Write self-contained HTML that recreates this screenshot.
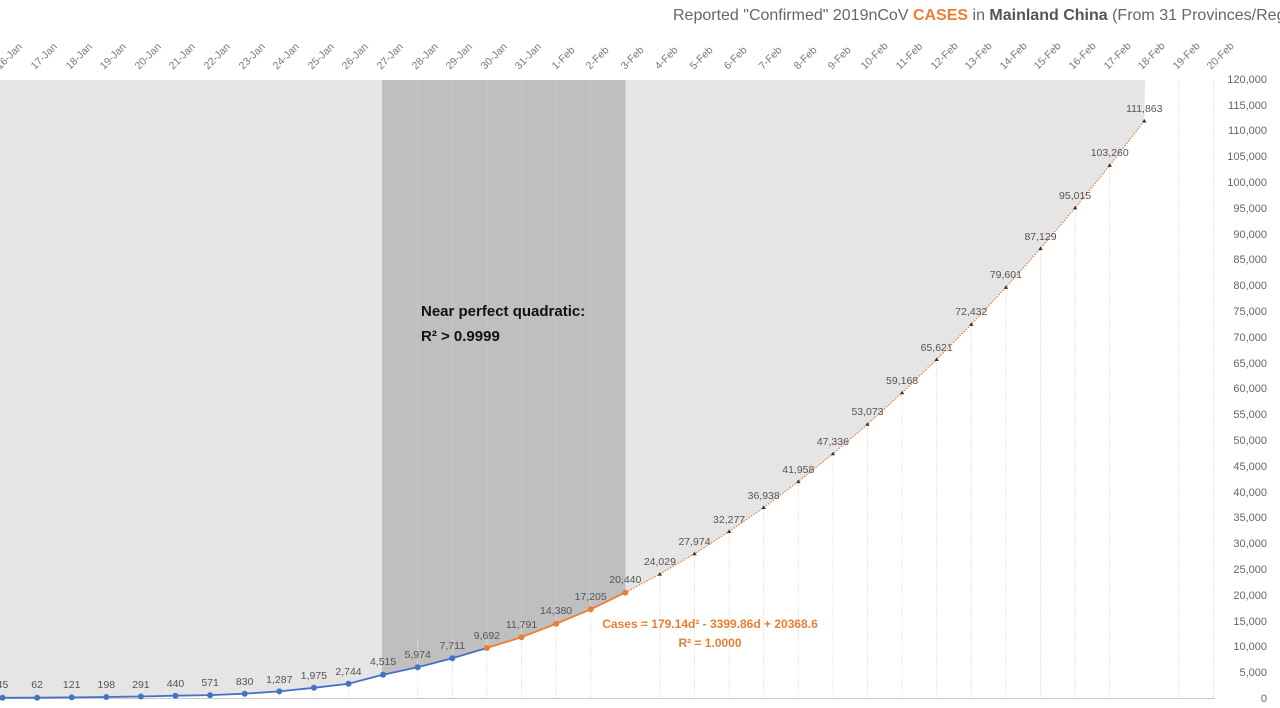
<!DOCTYPE html>
<html><head><meta charset="utf-8"><style>
html,body{margin:0;padding:0;background:#fff;}
svg{display:block;font-family:"Liberation Sans",sans-serif;}
.dl{font-size:10.5px;fill:#777;}
.yl{font-size:11px;fill:#666;text-anchor:end;}
.pl{font-size:10.5px;fill:#555;text-anchor:middle;}
</style></head><body>
<svg width="1280" height="708" viewBox="0 0 1280 708" xmlns="http://www.w3.org/2000/svg">
<rect x="0" y="80" width="1145" height="618" fill="#e5e5e5"/>
<rect x="382" y="80" width="243.5" height="618" fill="#bfbfbf"/>
<g stroke="#ececec" stroke-width="0.8">
<line x1="37.1" y1="80" x2="37.1" y2="698"/><line x1="71.7" y1="80" x2="71.7" y2="698"/><line x1="106.3" y1="80" x2="106.3" y2="698"/><line x1="140.9" y1="80" x2="140.9" y2="698"/><line x1="175.5" y1="80" x2="175.5" y2="698"/><line x1="210.1" y1="80" x2="210.1" y2="698"/><line x1="244.7" y1="80" x2="244.7" y2="698"/><line x1="279.3" y1="80" x2="279.3" y2="698"/><line x1="313.9" y1="80" x2="313.9" y2="698"/><line x1="348.5" y1="80" x2="348.5" y2="698"/><line x1="659.9" y1="80" x2="659.9" y2="698"/><line x1="694.5" y1="80" x2="694.5" y2="698"/><line x1="729.1" y1="80" x2="729.1" y2="698"/><line x1="763.7" y1="80" x2="763.7" y2="698"/><line x1="798.3" y1="80" x2="798.3" y2="698"/><line x1="832.9" y1="80" x2="832.9" y2="698"/><line x1="867.5" y1="80" x2="867.5" y2="698"/><line x1="902.1" y1="80" x2="902.1" y2="698"/><line x1="936.7" y1="80" x2="936.7" y2="698"/><line x1="971.3" y1="80" x2="971.3" y2="698"/><line x1="1005.9" y1="80" x2="1005.9" y2="698"/><line x1="1040.5" y1="80" x2="1040.5" y2="698"/><line x1="1075.1" y1="80" x2="1075.1" y2="698"/><line x1="1109.7" y1="80" x2="1109.7" y2="698"/>
</g>
<g stroke="#c8c8c8" stroke-width="0.8">
<line x1="417.7" y1="80" x2="417.7" y2="698"/><line x1="452.3" y1="80" x2="452.3" y2="698"/><line x1="486.9" y1="80" x2="486.9" y2="698"/><line x1="521.5" y1="80" x2="521.5" y2="698"/><line x1="556.1" y1="80" x2="556.1" y2="698"/><line x1="590.7" y1="80" x2="590.7" y2="698"/>
</g>
<path d="M2.5,698 L2.5,697.8 37.1,697.7 71.7,697.4 106.3,697 140.9,696.5 175.5,695.7 210.1,695.1 244.7,693.7 279.3,691.4 313.9,687.8 348.5,683.8 383.1,674.7 417.7,667.2 452.3,658.2 486.9,648 521.5,637.2 556.1,623.8 590.7,609.3 625.3,592.6 659.9,574.1 694.5,553.7 729.1,531.5 763.7,507.5 798.3,481.6 832.9,453.8 867.5,424.2 902.1,392.8 936.7,359.5 971.3,324.4 1005.9,287.4 1040.5,248.6 1075.1,207.9 1109.7,165.4 1144.3,121 L1145,80 L1280,80 L1280,698 Z" fill="#fff"/>
<rect x="0" y="80" width="3" height="618" fill="#e5e5e5"/>
<g stroke="#e2e2e2" stroke-width="0.8" stroke-dasharray="2,1">
<line x1="37.1" y1="80" x2="37.1" y2="698"/><line x1="71.7" y1="80" x2="71.7" y2="698"/><line x1="106.3" y1="80" x2="106.3" y2="698"/><line x1="140.9" y1="80" x2="140.9" y2="698"/><line x1="175.5" y1="80" x2="175.5" y2="698"/><line x1="210.1" y1="80" x2="210.1" y2="698"/><line x1="244.7" y1="80" x2="244.7" y2="698"/><line x1="279.3" y1="80" x2="279.3" y2="698"/><line x1="313.9" y1="80" x2="313.9" y2="698"/><line x1="348.5" y1="80" x2="348.5" y2="698"/><line x1="417.7" y1="640" x2="417.7" y2="698"/><line x1="452.3" y1="640" x2="452.3" y2="698"/><line x1="486.9" y1="640" x2="486.9" y2="698"/><line x1="521.5" y1="620" x2="521.5" y2="698"/><line x1="556.1" y1="610" x2="556.1" y2="698"/><line x1="590.7" y1="600" x2="590.7" y2="698"/><line x1="659.9" y1="80" x2="659.9" y2="698"/><line x1="694.5" y1="80" x2="694.5" y2="698"/><line x1="729.1" y1="80" x2="729.1" y2="698"/><line x1="763.7" y1="80" x2="763.7" y2="698"/><line x1="798.3" y1="80" x2="798.3" y2="698"/><line x1="832.9" y1="80" x2="832.9" y2="698"/><line x1="867.5" y1="80" x2="867.5" y2="698"/><line x1="902.1" y1="80" x2="902.1" y2="698"/><line x1="936.7" y1="80" x2="936.7" y2="698"/><line x1="971.3" y1="80" x2="971.3" y2="698"/><line x1="1005.9" y1="80" x2="1005.9" y2="698"/><line x1="1040.5" y1="80" x2="1040.5" y2="698"/><line x1="1075.1" y1="80" x2="1075.1" y2="698"/><line x1="1109.7" y1="80" x2="1109.7" y2="698"/><line x1="1178.9" y1="80" x2="1178.9" y2="698"/><line x1="1213.5" y1="80" x2="1213.5" y2="698"/>
</g>
<line x1="0" y1="698.5" x2="1215" y2="698.5" stroke="#c8c8c8" stroke-width="1"/>
<text x="673" y="20" font-size="16" fill="#666">Reported "Confirmed" 2019nCoV <tspan fill="#ed7d31" font-weight="bold">CASES</tspan> in <tspan fill="#555" font-weight="bold">Mainland China</tspan> (From 31 Provinces/Regions)</text>
<g class="dl">
<text transform="translate(0,70) rotate(-45)">16-Jan</text>
<text transform="translate(35,70) rotate(-45)">17-Jan</text>
<text transform="translate(70,70) rotate(-45)">18-Jan</text>
<text transform="translate(104,70) rotate(-45)">19-Jan</text>
<text transform="translate(139,70) rotate(-45)">20-Jan</text>
<text transform="translate(173,70) rotate(-45)">21-Jan</text>
<text transform="translate(208,70) rotate(-45)">22-Jan</text>
<text transform="translate(243,70) rotate(-45)">23-Jan</text>
<text transform="translate(277,70) rotate(-45)">24-Jan</text>
<text transform="translate(312,70) rotate(-45)">25-Jan</text>
<text transform="translate(346,70) rotate(-45)">26-Jan</text>
<text transform="translate(381,70) rotate(-45)">27-Jan</text>
<text transform="translate(416,70) rotate(-45)">28-Jan</text>
<text transform="translate(450,70) rotate(-45)">29-Jan</text>
<text transform="translate(485,70) rotate(-45)">30-Jan</text>
<text transform="translate(519,70) rotate(-45)">31-Jan</text>
<text transform="translate(556,70) rotate(-45)">1-Feb</text>
<text transform="translate(590,70) rotate(-45)">2-Feb</text>
<text transform="translate(625,70) rotate(-45)">3-Feb</text>
<text transform="translate(659,70) rotate(-45)">4-Feb</text>
<text transform="translate(694,70) rotate(-45)">5-Feb</text>
<text transform="translate(728,70) rotate(-45)">6-Feb</text>
<text transform="translate(763,70) rotate(-45)">7-Feb</text>
<text transform="translate(798,70) rotate(-45)">8-Feb</text>
<text transform="translate(832,70) rotate(-45)">9-Feb</text>
<text transform="translate(865,70) rotate(-45)">10-Feb</text>
<text transform="translate(900,70) rotate(-45)">11-Feb</text>
<text transform="translate(935,70) rotate(-45)">12-Feb</text>
<text transform="translate(969,70) rotate(-45)">13-Feb</text>
<text transform="translate(1004,70) rotate(-45)">14-Feb</text>
<text transform="translate(1038,70) rotate(-45)">15-Feb</text>
<text transform="translate(1073,70) rotate(-45)">16-Feb</text>
<text transform="translate(1108,70) rotate(-45)">17-Feb</text>
<text transform="translate(1142,70) rotate(-45)">18-Feb</text>
<text transform="translate(1177,70) rotate(-45)">19-Feb</text>
<text transform="translate(1211,70) rotate(-45)">20-Feb</text>
</g>
<g class="yl">
<text x="1267" y="702">0</text><text x="1267" y="676">5,000</text><text x="1267" y="650">10,000</text><text x="1267" y="625">15,000</text><text x="1267" y="599">20,000</text><text x="1267" y="573">25,000</text><text x="1267" y="547">30,000</text><text x="1267" y="521">35,000</text><text x="1267" y="496">40,000</text><text x="1267" y="470">45,000</text><text x="1267" y="444">50,000</text><text x="1267" y="418">55,000</text><text x="1267" y="392">60,000</text><text x="1267" y="367">65,000</text><text x="1267" y="341">70,000</text><text x="1267" y="315">75,000</text><text x="1267" y="289">80,000</text><text x="1267" y="263">85,000</text><text x="1267" y="238">90,000</text><text x="1267" y="212">95,000</text><text x="1267" y="186">100,000</text><text x="1267" y="160">105,000</text><text x="1267" y="134">110,000</text><text x="1267" y="109">115,000</text><text x="1267" y="83">120,000</text>
</g>
<polyline fill="none" stroke="#4472c4" stroke-width="1.8" points="2.5,697.8 37.1,697.7 71.7,697.4 106.3,697 140.9,696.5 175.5,695.7 210.1,695.1 244.7,693.7 279.3,691.4 313.9,687.8 348.5,683.8 383.1,674.7 417.7,667.2 452.3,658.2 486.9,648"/>
<polyline fill="none" stroke="#ed7d31" stroke-width="1.8" points="486.9,648 521.5,637.2 556.1,623.8 590.7,609.3 625.3,592.6"/>
<polyline fill="none" stroke="#ed7d31" stroke-width="1.2" stroke-dasharray="1.5,1.5" points="625.3,592.6 659.9,574.1 694.5,553.7 729.1,531.5 763.7,507.5 798.3,481.6 832.9,453.8 867.5,424.2 902.1,392.8 936.7,359.5 971.3,324.4 1005.9,287.4 1040.5,248.6 1075.1,207.9 1109.7,165.4 1144.3,121"/>
<g fill="#4472c4">
<circle cx="2.5" cy="697.8" r="3"/><circle cx="37.1" cy="697.7" r="3"/><circle cx="71.7" cy="697.4" r="3"/><circle cx="106.3" cy="697" r="3"/><circle cx="140.9" cy="696.5" r="3"/><circle cx="175.5" cy="695.7" r="3"/><circle cx="210.1" cy="695.1" r="3"/><circle cx="244.7" cy="693.7" r="3"/><circle cx="279.3" cy="691.4" r="3"/><circle cx="313.9" cy="687.8" r="3"/><circle cx="348.5" cy="683.8" r="3"/><circle cx="383.1" cy="674.7" r="3"/><circle cx="417.7" cy="667.2" r="3"/><circle cx="452.3" cy="658.2" r="3"/>
</g>
<g fill="#ed7d31">
<circle cx="486.9" cy="648" r="3"/><circle cx="521.5" cy="637.2" r="3"/><circle cx="556.1" cy="623.8" r="3"/><circle cx="590.7" cy="609.3" r="3"/><circle cx="625.3" cy="592.6" r="3"/>
</g>
<g fill="#333">
<path d="M659.9,572 l2.2,3.6 h-4.4z"/><path d="M694.5,551.6 l2.2,3.6 h-4.4z"/><path d="M729.1,529.4 l2.2,3.6 h-4.4z"/><path d="M763.7,505.4 l2.2,3.6 h-4.4z"/><path d="M798.3,479.5 l2.2,3.6 h-4.4z"/><path d="M832.9,451.7 l2.2,3.6 h-4.4z"/><path d="M867.5,422.1 l2.2,3.6 h-4.4z"/><path d="M902.1,390.7 l2.2,3.6 h-4.4z"/><path d="M936.7,357.4 l2.2,3.6 h-4.4z"/><path d="M971.3,322.3 l2.2,3.6 h-4.4z"/><path d="M1005.9,285.3 l2.2,3.6 h-4.4z"/><path d="M1040.5,246.5 l2.2,3.6 h-4.4z"/><path d="M1075.1,205.8 l2.2,3.6 h-4.4z"/><path d="M1109.7,163.3 l2.2,3.6 h-4.4z"/><path d="M1144.3,118.9 l2.2,3.6 h-4.4z"/>
</g>
<g class="pl">
<text x="2.5" y="688">45</text><text x="37.1" y="688">62</text><text x="71.7" y="688">121</text><text x="106.3" y="688">198</text><text x="140.9" y="688">291</text><text x="175.5" y="687">440</text><text x="210.1" y="686">571</text><text x="244.7" y="685">830</text><text x="279.3" y="683">1,287</text><text x="313.9" y="679">1,975</text><text x="348.5" y="675">2,744</text><text x="383.1" y="665">4,515</text><text x="417.7" y="658">5,974</text><text x="452.3" y="649">7,711</text><text x="486.9" y="639">9,692</text><text x="521.5" y="628">11,791</text><text x="556.1" y="614">14,380</text><text x="590.7" y="600">17,205</text><text x="625.3" y="583">20,440</text><text x="659.9" y="565">24,029</text><text x="694.5" y="545">27,974</text><text x="729.1" y="523">32,277</text><text x="763.7" y="499">36,938</text><text x="798.3" y="473">41,958</text><text x="832.9" y="445">47,336</text><text x="867.5" y="415">53,073</text><text x="902.1" y="384">59,168</text><text x="936.7" y="351">65,621</text><text x="971.3" y="315">72,432</text><text x="1005.9" y="278">79,601</text><text x="1040.5" y="240">87,129</text><text x="1075.1" y="199">95,015</text><text x="1109.7" y="156">103,260</text><text x="1144.3" y="112">111,863</text>
</g>
<text x="421" y="316" font-size="15" font-weight="bold" fill="#111">Near perfect quadratic:</text>
<text x="421" y="341" font-size="15" font-weight="bold" fill="#111">R² &gt; 0.9999</text>
<text x="710" y="628" font-size="12" font-weight="bold" fill="#ed7d31" text-anchor="middle">Cases = 179.14d² - 3399.86d + 20368.6</text>
<text x="710" y="647" font-size="12" font-weight="bold" fill="#ed7d31" text-anchor="middle">R² = 1.0000</text>
</svg>
</body></html>
